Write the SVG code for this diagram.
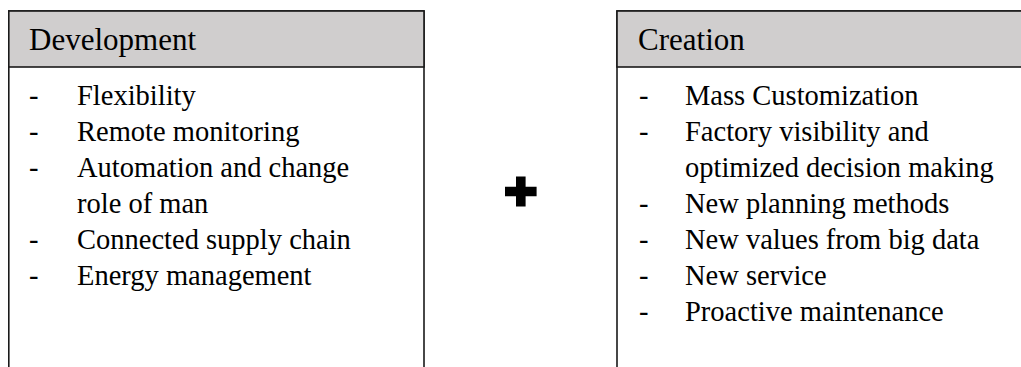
<svg xmlns="http://www.w3.org/2000/svg" width="1021" height="367" viewBox="0 0 1021 367">
<style>
.box{fill:#ffffff;stroke:#1a1a1a;stroke-width:1.6}
.hdr{fill:#d0cece;stroke:#1a1a1a;stroke-width:1.6}
.ht{font-family:"Liberation Serif","Times New Roman",serif;font-size:31px;fill:#000}
.t{font-family:"Liberation Serif","Times New Roman",serif;font-size:28.5px;fill:#000}
</style>
<rect width="1021" height="367" fill="#ffffff"/>
<g id="development">
<rect class="box" x="8.8" y="11" width="415.2" height="380"/>
<rect class="hdr" x="8.8" y="11" width="415.2" height="56"/>
<text class="ht" x="29" y="50">Development</text>
<g class="t">
<text x="29" y="105">-</text><text x="77" y="105">Flexibility</text>
<text x="29" y="141">-</text><text x="77" y="141">Remote monitoring</text>
<text x="29" y="177">-</text><text x="77" y="177">Automation and change</text>
<text x="77" y="213">role of man</text>
<text x="29" y="249">-</text><text x="77" y="249">Connected supply chain</text>
<text x="29" y="285">-</text><text x="77" y="285">Energy management</text>
</g>
</g>
<g id="plus">
<path d="M516,176.5 h9.6 v10.2 h11 v9.6 h-11 v10.2 h-9.6 v-10.2 h-11 v-9.6 h11 z" fill="#000"/>
</g>
<g id="creation">
<rect class="box" x="617" y="11" width="420" height="380"/>
<rect class="hdr" x="617" y="11" width="420" height="56"/>
<text class="ht" x="638" y="50">Creation</text>
<g class="t">
<text x="639" y="105">-</text><text x="685" y="105">Mass Customization</text>
<text x="639" y="141">-</text><text x="685" y="141">Factory visibility and</text>
<text x="685" y="177">optimized decision making</text>
<text x="639" y="213">-</text><text x="685" y="213">New planning methods</text>
<text x="639" y="249">-</text><text x="685" y="249">New values from big data</text>
<text x="639" y="285">-</text><text x="685" y="285">New service</text>
<text x="639" y="321">-</text><text x="685" y="321">Proactive maintenance</text>
</g>
</g>
<g id="connectors"/>
</svg>
